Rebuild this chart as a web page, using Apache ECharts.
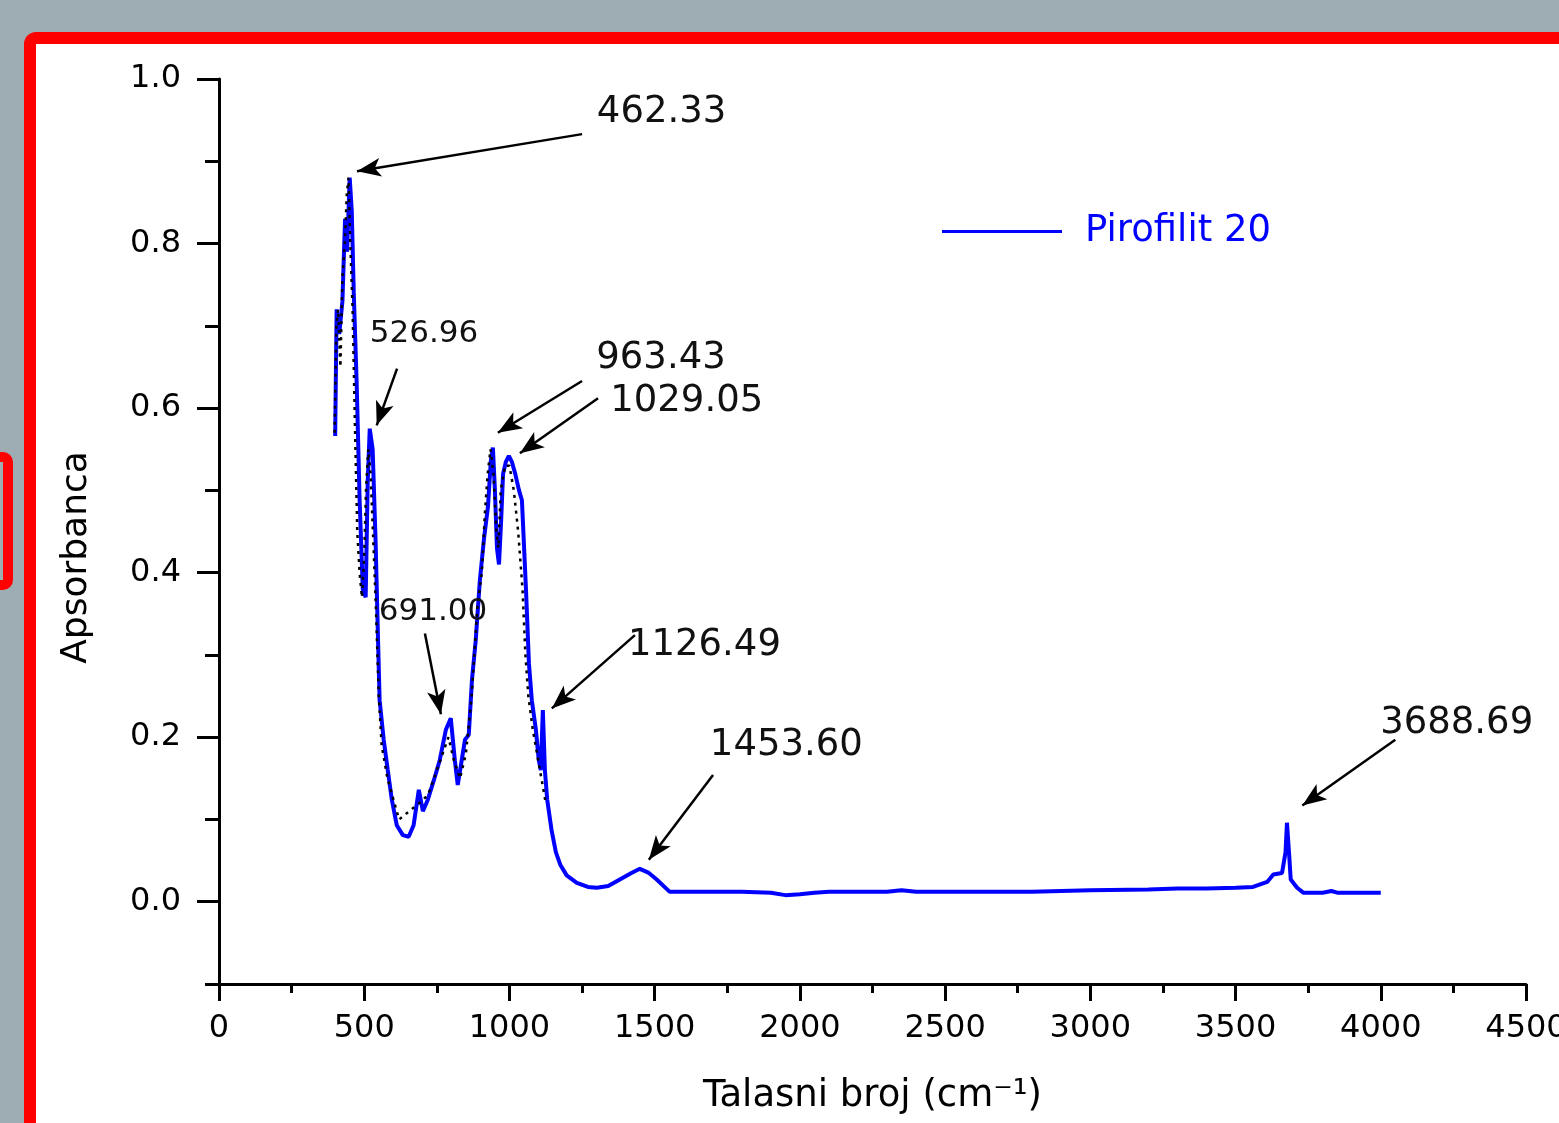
<!DOCTYPE html>
<html>
<head>
<meta charset="utf-8">
<script src="https://cdn.jsdelivr.net/npm/echarts@6/dist/echarts.min.js"></script>
<style>
  html, body { margin: 0; padding: 0; width: 1559px; height: 1123px; overflow: hidden; background: #9eadb3; }
  .frame { position: absolute; left: 24px; top: 32px; width: 1600px; height: 1200px; box-sizing: border-box;
           border: 12px solid #ff0000; border-radius: 12px; background: #ffffff; }
  .bracket { position: absolute; left: -30px; top: 452px; width: 43px; height: 138px; box-sizing: border-box;
             border: 10px solid #ff0000; border-radius: 10px; }
  #chart { position: absolute; left: 0; top: 0; width: 1559px; height: 1123px; }
</style>
</head>
<body>
<div class="frame"></div>
<div class="bracket"></div>
<div id="chart"></div>
<script>
// spectrum (wavenumber cm-1 / absorbance)
const wavenumber = [400, 405, 414, 425, 434, 441, 450, 457, 464, 474, 484, 495, 505, 512, 519, 529, 539, 546, 553,
  567, 581, 595, 612, 633, 653, 670, 688, 702, 719, 740, 760, 781, 798, 812, 822, 833, 847, 860, 871, 884, 898,
  912, 926, 936, 943, 950, 957, 964, 971, 978, 988, 998, 1008, 1020, 1033, 1043, 1057, 1067, 1077, 1091, 1101,
  1108, 1115, 1122, 1130, 1145, 1160, 1175, 1197, 1232, 1270, 1301, 1340, 1380, 1420, 1449, 1480, 1507, 1552,
  1600, 1700, 1800, 1900, 1950, 2000, 2050, 2100, 2300, 2350, 2400, 2600, 2800, 3000, 3200, 3300, 3400, 3500,
  3560, 3609, 3630, 3660, 3672, 3677, 3684, 3690, 3712, 3733, 3800, 3830, 3850, 4000];
const absorbance = [0.566, 0.72, 0.69, 0.73, 0.83, 0.79, 0.88, 0.84, 0.74, 0.63, 0.49, 0.38, 0.37, 0.51, 0.575,
  0.55, 0.44, 0.34, 0.245, 0.197, 0.16, 0.124, 0.093, 0.081, 0.079, 0.093, 0.136, 0.11, 0.124, 0.148, 0.172,
  0.209, 0.223, 0.172, 0.142, 0.166, 0.197, 0.203, 0.27, 0.318, 0.39, 0.44, 0.48, 0.536, 0.552, 0.50, 0.43,
  0.41, 0.46, 0.52, 0.535, 0.542, 0.535, 0.52, 0.50, 0.488, 0.379, 0.29, 0.245, 0.209, 0.172, 0.16, 0.233,
  0.16, 0.124, 0.087, 0.06, 0.045, 0.032, 0.023, 0.018, 0.017, 0.019, 0.027, 0.035, 0.04, 0.035, 0.027, 0.012,
  0.012, 0.012, 0.012, 0.011, 0.008, 0.009, 0.011, 0.012, 0.012, 0.014, 0.012, 0.012, 0.012, 0.014, 0.015,
  0.016, 0.016, 0.017, 0.018, 0.024, 0.033, 0.035, 0.06, 0.096, 0.06, 0.027, 0.017, 0.011, 0.011, 0.013,
  0.011, 0.011];

// second (black, dotted) trace visible under the blue one below ~1150 cm-1
const blackWn = [398, 404, 410, 418, 425, 433, 440, 446, 452, 460, 468, 476, 484, 492, 500, 506, 514, 522, 530,
  540, 550, 560, 580, 620, 690, 720, 760, 790, 810, 830, 850, 870, 890, 905, 915, 925, 935, 945, 955, 962, 970,
  985, 1000, 1015, 1030, 1045, 1055, 1065, 1080, 1095, 1105, 1115, 1125];
const blackAbs = [0.57, 0.70, 0.72, 0.65, 0.76, 0.80, 0.86, 0.88, 0.80, 0.72, 0.58, 0.45, 0.40, 0.37, 0.42, 0.50,
  0.55, 0.52, 0.45, 0.36, 0.25, 0.19, 0.15, 0.10, 0.12, 0.13, 0.17, 0.20, 0.17, 0.15, 0.18, 0.25, 0.36, 0.40,
  0.47, 0.52, 0.55, 0.52, 0.45, 0.43, 0.50, 0.53, 0.53, 0.50, 0.45, 0.38, 0.30, 0.25, 0.21, 0.18, 0.16, 0.14,
  0.12];

// peak annotations: label text, label anchor, arrow start, arrow tip
const peakLabels = ['462.33', '526.96', '963.43', '1029.05', '691.00', '1126.49', '1453.60', '3688.69'];
const labelAt = [[1301, 0.96], [519, 0.69], [1299, 0.661], [1347, 0.608], [550, 0.352], [1408, 0.312], [1690, 0.19], [3998, 0.217]];
const labelSmall = [false, true, false, false, true, false, false, false];
const arrowFrom = [[1250, 0.933], [613, 0.648], [1250, 0.633], [1305, 0.612], [709, 0.326], [1432, 0.324], [1701, 0.154], [4050, 0.197]];
const arrowTo = [[475, 0.888], [543, 0.579], [960, 0.570], [1036, 0.545], [764, 0.228], [1146, 0.235], [1480, 0.051], [3730, 0.117]];

const yTicks = [0.0, 0.2, 0.4, 0.6, 0.8, 1.0];
const yMinorTicks = [-0.1, 0.1, 0.3, 0.5, 0.7, 0.9];

const font = 'DejaVu Sans';
const chart = echarts.init(document.getElementById('chart'));

const spectrum = wavenumber.map((w, i) => [w, absorbance[i]]);
const blackTrace = blackWn.map((w, i) => [w, blackAbs[i]]);

const option = {
  animation: false,
  backgroundColor: 'transparent',
  grid: { left: 219, right: 33, top: 79, bottom: 139, outerBoundsMode: 'none', containLabel: false },
  legend: {
    data: [{ name: 'Pirofilit 20', icon: 'rect' }],
    left: 937, top: 208,
    itemWidth: 120, itemHeight: 3,
    textStyle: { color: '#0000ff', fontFamily: font, fontSize: 37, padding: [0, 0, 0, 18] }
  },
  xAxis: {
    type: 'value', min: 0, max: 4500, interval: 500,
    name: 'Talasni broj (cm⁻¹)', nameLocation: 'middle', nameGap: 94,
    nameTextStyle: { color: '#000', fontFamily: font, fontSize: 37 },
    axisLine: { onZero: false, lineStyle: { color: '#000', width: 3 } },
    axisTick: { length: 17, lineStyle: { color: '#000', width: 3 } },
    minorTick: { show: true, splitNumber: 2, length: 9, lineStyle: { color: '#000', width: 3 } },
    axisLabel: { color: '#000', fontFamily: font, fontSize: 32, margin: 29, formatter: v => String(v) },
    splitLine: { show: false }
  },
  yAxis: [{
    type: 'value', min: -0.1, max: 1.0,
    name: 'Apsorbanca', nameLocation: 'middle', nameGap: 124,
    nameTextStyle: { color: '#000', fontFamily: font, fontSize: 36, padding: [0, 52, 0, 0] },
    axisLine: { show: true, onZero: false, lineStyle: { color: '#000', width: 3 } },
    axisTick: { length: 22, customValues: yTicks, lineStyle: { color: '#000', width: 3 } },
    axisLabel: { color: '#000', fontFamily: font, fontSize: 32, margin: 38, customValues: yTicks,
                 formatter: v => v.toFixed(1) },
    splitLine: { show: false }
  }, {
    type: 'value', min: -0.1, max: 1.0, position: 'left',
    axisLine: { show: false, onZero: false },
    axisTick: { length: 14, customValues: yMinorTicks, lineStyle: { color: '#000', width: 3 } },
    axisLabel: { show: false },
    splitLine: { show: false }
  }],
  series: [{
    name: 'Pirofilit 20',
    type: 'line',
    data: spectrum,
    showSymbol: false,
    lineStyle: { color: '#0000ff', width: 4 },
    itemStyle: { color: '#0000ff' },
    z: 3
  }, {
    name: 'trace',
    type: 'line',
    data: blackTrace,
    showSymbol: false,
    lineStyle: { color: '#000', width: 2.5, type: [3, 5] },
    z: 4
  }, {
    name: 'notes',
    type: 'line',
    data: [],
    markLine: {
      silent: true,
      symbol: ['none', 'arrow'],
      symbolSize: [14, 24],
      lineStyle: { color: '#000', width: 2.5, type: 'solid' },
      label: { show: false },
      data: arrowFrom.map((p, i) => [{ coord: p }, { coord: arrowTo[i] }])
    },
    markPoint: {
      silent: true,
      symbol: 'circle',
      symbolSize: 0,
      data: peakLabels.map((t, i) => ({
        coord: labelAt[i],
        value: t,
        label: {
          show: true, position: 'right', distance: 0, formatter: t,
          color: '#111', fontFamily: font, fontSize: labelSmall[i] ? 31 : 37
        }
      }))
    },
    z: 5
  }]
};

chart.setOption(option);
window.addEventListener('resize', function () { chart.resize(); });
</script>
</body>
</html>
